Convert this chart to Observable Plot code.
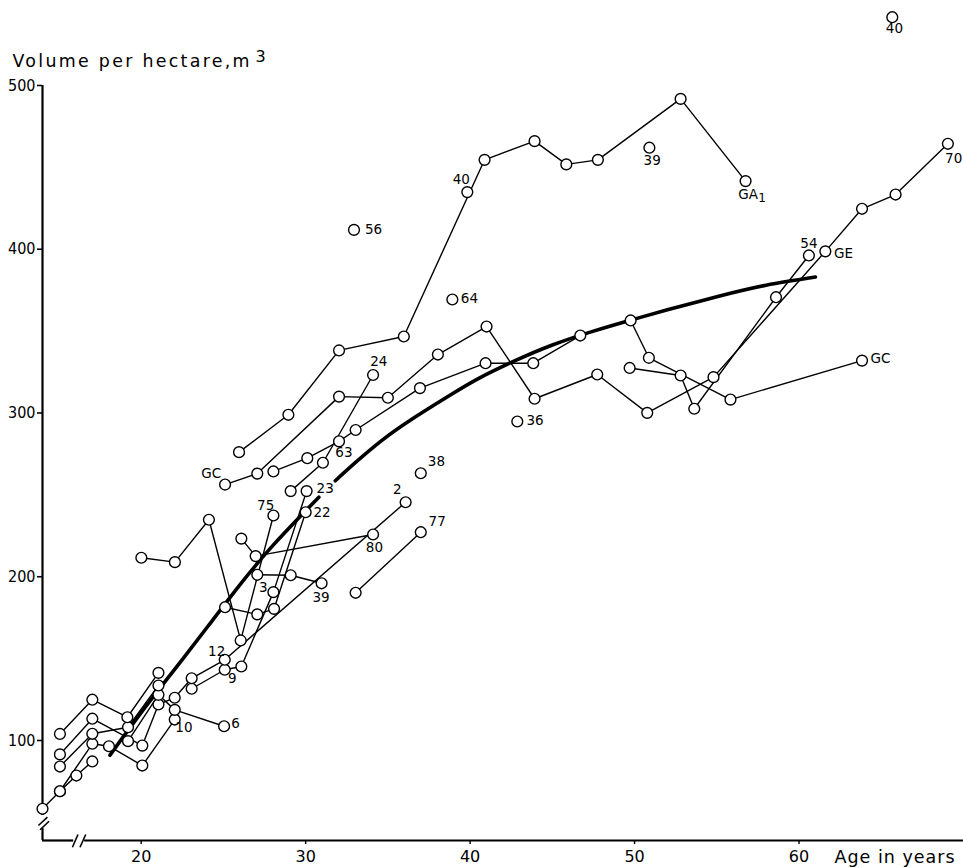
<!DOCTYPE html>
<html><head><meta charset="utf-8">
<script src="https://cdn.jsdelivr.net/npm/d3@7"></script>
<script src="https://cdn.jsdelivr.net/npm/@observablehq/plot@0.6"></script>
<style>body{margin:0;background:#fff}svg{display:block}</style>
</head><body><div id="chart"></div>
<script>
const FONT = "DejaVu Sans, sans-serif";

// --- stand series: [age in years, volume per hectare m3] ---
const serGA1 = [[25.95,276.1],[28.95,298.9],[32.03,338.2],[35.97,346.7],[40.88,454.6],[43.92,466.0],[45.85,451.8],[47.77,454.6],[52.80,491.8],[56.75,441.6]];
const serGE  = [[25.10,256.3],[27.06,263.0],[32.03,310.0],[35.00,309.3],[38.04,335.7],[41.00,352.8],[43.92,308.7],[47.73,323.5],[50.77,300.1],[54.80,321.9],[61.60,398.7],[63.83,424.7],[65.87,433.4],[69.05,464.4]];
const serGC  = [[28.04,264.3],[30.10,272.4],[32.03,282.7],[33.04,289.6],[36.95,315.2],[40.94,330.4],[43.84,330.4],[46.70,347.3],[49.76,356.5],[50.87,333.7],[55.83,308.2],[63.83,332.0]];
const ser24  = [[29.09,252.3],[31.05,269.6],[34.10,323.2]];
const ser54  = [[49.70,327.5],[52.80,322.9],[53.63,302.6],[58.60,370.7],[60.60,396.2]];
const ser75  = [[20.01,211.6],[22.05,208.9],[24.12,234.8],[26.05,161.1],[28.04,237.4]];
const ser80  = [[26.09,223.3],[26.96,212.6],[34.10,225.8]];
const ser39  = [[27.06,201.2],[29.09,200.9],[30.97,196.0]];
const ser22  = [[25.10,181.4],[27.06,177.0],[28.08,180.4],[30.00,239.4]];
const ser23  = [[23.07,131.6],[25.08,143.2],[26.09,145.2],[28.04,190.6],[30.06,252.3]];
const ser77  = [[33.04,190.2],[37.00,227.2]];
const ser2   = [[15.06,91.5],[17.03,113.3],[20.07,96.9],[21.05,122.0],[22.04,126.1],[23.07,138.0],[25.08,149.3],[36.08,245.5]];
const ser10  = [[15.06,69.0],[17.03,98.0],[18.04,96.5],[20.07,84.7],[22.04,112.8]];
const ser6   = [[19.20,99.6],[21.05,127.9],[22.04,118.7],[25.04,108.7]];
const serA   = [[14.00,58.3],[15.06,69.0],[16.06,78.6],[17.03,87.2]];
const serB   = [[15.06,84.1],[17.03,104.1],[19.20,108.1],[21.05,133.6]];
const serC   = [[15.06,104.0],[17.03,124.9],[19.16,114.2],[21.05,141.3]];

// single observations
const singles = [[32.94,411.8],[38.92,369.3],[42.87,294.8],[37.00,263.2],[50.90,462.0],[39.83,434.9],[65.67,541.7]];

// general growth curve (two drawn pieces)
const trendA = [[18.1,91],[20,117],[22,143],[24,169],[26,195],[28,219],[30.8,248.6]];
const trendB = [[31.8,258.6],[33,269.5],[34.6,283],[36.5,296.5],[38.8,311],[40.5,321],[42.6,331.3],[45,341.5],[47.5,350],[49.8,356.8],[52,363],[55,371],[58,378],[61,383]];

// point labels: [age, volume, text]
const pointLabels = [
  [34.13,411.9,"56"],[39.96,369.7,"64"],[39.46,442.4,"40"],[51.07,454.2,"39"],
  [56.90,433.4,"GA"],[65.80,534.6,"40"],[69.40,455.2,"70"],[60.60,403.7,"54"],
  [62.70,397.2,"GE"],[64.95,333.1,"GC"],[43.95,295.4,"36"],[34.45,331.6,"24"],
  [32.33,275.7,"63"],[24.26,263.2,"GC"],[31.19,253.7,"23"],[31.00,239.4,"22"],
  [27.57,243.5,"75"],[37.95,270.0,"38"],[35.57,253.1,"2"],[38.00,233.9,"77"],
  [34.18,217.7,"80"],[27.43,193.6,"3"],[30.94,187.5,"39"],[24.59,154.5,"12"],
  [25.54,137.7,"9"],[22.60,108.1,"10"],[25.74,110.2,"6"]
];
const subLabels = [[57.75,431.0,"1"]];

// axis ticks
const xTicks = [20,30,40,50,60];
const yTicks = [100,200,300,400,500];
const xDomain = [14,70];
const yDomain = [38.93,551.9];

// axis lines with breaks (data units)
const xAxisSegs = [{a1:14,a2:15.9},{a1:16.55,a2:70}];
const yAxisSegs = [{v1:38.93,v2:46.3},{v1:54.2,v2:500}];
const breakStrokes = [
  {x1:13.75,y1:48.1,x2:14.3,y2:53.2},{x1:13.85,y1:45.5,x2:14.4,y2:50.7},
  {x1:15.82,y1:34.8,x2:16.16,y2:42.6},{x1:16.28,y1:34.8,x2:16.63,y2:42.6}
];

const seriesList = [["GA1",serGA1],["GE",serGE],["GC",serGC],["24",ser24],["54",ser54],["75",ser75],["80",ser80],["39",ser39],["22",ser22],["23",ser23],["77",ser77],["2",ser2],["10",ser10],["6",ser6],["A",serA],["B",serB],["C",serC]];
const rows = seriesList.flatMap(([id, pts]) => pts.map(([age, vol]) => ({id, age, vol})));
const trendRows = [...trendA.map(([age,vol])=>({id:"a",age,vol})), ...trendB.map(([age,vol])=>({id:"b",age,vol}))];
const dotRows = [...rows, ...singles.map(([age,vol])=>({id:"s",age,vol}))];
const labelRows = pointLabels.map(([age,vol,text])=>({age,vol,text}));
const subRows = subLabels.map(([age,vol,text])=>({age,vol,text}));

const chart = Plot.plot({
  width: 963, height: 868,
  marginLeft: 42, marginRight: 0, marginTop: 0, marginBottom: 28,
  x: {domain: xDomain}, y: {domain: yDomain},
  style: {fontFamily: FONT, background: "white", color: "black", overflow: "visible"},
  marks: [
    Plot.ruleY(xAxisSegs, {y: yDomain[0], x1: "a1", x2: "a2", stroke: "black", strokeWidth: 2.2}),
    Plot.ruleX(yAxisSegs, {x: xDomain[0], y1: "v1", y2: "v2", stroke: "black", strokeWidth: 2.2}),
    Plot.link(breakStrokes, {x1:"x1", y1:"y1", x2:"x2", y2:"y2", stroke:"black", strokeWidth: 1.6}),
    Plot.axisY({ticks: yTicks, tickSize: 5, tickPadding: 2, label: null, fontSize: 16, fontFamily: "DejaVu Sans Condensed, DejaVu Sans, sans-serif", strokeWidth: 1.6}),
    Plot.axisX({ticks: xTicks, tickSize: 4, tickPadding: 6, label: null, fontSize: 16, fontFamily: FONT, strokeWidth: 1.4}),
    Plot.line(trendRows, {x: "age", y: "vol", z: "id", stroke: "black", strokeWidth: 3.6, curve: "natural"}),
    Plot.line(rows, {x: "age", y: "vol", z: "id", stroke: "black", strokeWidth: 1.4}),
    Plot.dot(dotRows, {x: "age", y: "vol", r: 5.4, fill: "white", stroke: "black", strokeWidth: 1.4}),
    Plot.text(labelRows, {x: "age", y: "vol", text: "text", fontSize: 13.5, fill: "black"}),
    Plot.text(subRows, {x: "age", y: "vol", text: "text", fontSize: 12, fill: "black"}),
    Plot.text(["Volume per hectare,m"], {frameAnchor: "top-left", lineAnchor: "middle", dx: -30, dy: 60.5, textAnchor: "start", fontSize: 17.4, fill: "black"}),
    Plot.text(["3"], {frameAnchor: "top-left", lineAnchor: "middle", dx: 218, dy: 56, textAnchor: "middle", fontSize: 16, fill: "black"}),
    Plot.text(["Age in years"], {frameAnchor: "bottom-right", lineAnchor: "middle", dx: -129, dy: 17, textAnchor: "start", fontSize: 17.5, fill: "black"})
  ]
});
d3.select(chart).selectAll("text").each(function() {
  const t = this.textContent;
  if (t === "Volume per hectare,m") this.setAttribute("letter-spacing", "2.3px");
  if (t === "Age in years") this.setAttribute("letter-spacing", "1px");
});
document.getElementById("chart").appendChild(chart);
</script>
</body></html>
